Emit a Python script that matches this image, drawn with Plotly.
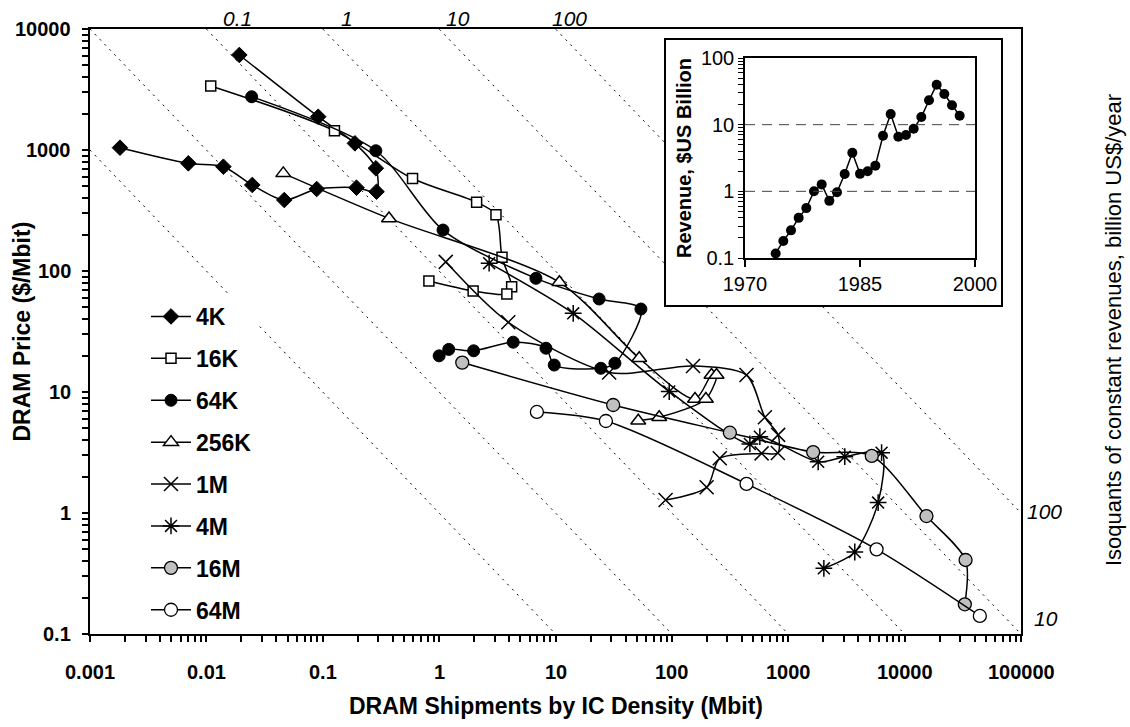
import numpy as np
import plotly.graph_objects as go

# ---------------- data ----------------
series_names = ["4K", "16K", "64K", "256K", "1M", "4M", "16M", "64M"]

x_4k = [0.0192, 0.0914, 0.189, 0.286, 0.290, 0.195, 0.0887, 0.0467, 0.0248, 0.0140, 0.0070, 0.00181]
y_4k = [6100, 1884, 1135, 706, 452, 488, 476, 386, 514, 728, 776, 1045]

x_16k = [0.0109, 0.126, 0.591, 2.10, 3.08, 3.47, 4.20, 3.82, 1.96, 0.817]
y_16k = [3380, 1445, 581, 370, 292, 130, 74.1, 64.6, 68.4, 82.6]

x_64k = [0.0245, 0.286, 1.08, 6.79, 23.7, 54.2, 32.4, 24.5, 9.75, 8.28, 4.33, 1.98, 1.21, 1.00]
y_64k = [2755, 986, 218, 87, 58.7, 48.5, 17.3, 15.7, 16.7, 23.0, 25.8, 21.9, 22.5, 19.9]

x_256k = [0.0458, 0.371, 10.8, 52.4, 158, 219, 242, 196, 77.8, 51.4]
y_256k = [641, 272, 80.7, 19.0, 8.75, 13.8, 13.8, 8.75, 6.18, 5.79]

x_1m = [1.14, 3.93, 28.9, 152, 438, 630, 819, 814, 590, 258, 199, 88.3]
y_1m = [119, 37.7, 14.5, 16.4, 13.8, 6.18, 4.42, 3.13, 3.11, 2.83, 1.63, 1.28]

x_4m = [2.69, 14.2, 94.9, 468, 570, 1808, 3060, 6340, 5920, 3730, 2023]
y_4m = [116, 44.7, 10.1, 3.72, 4.27, 2.65, 2.92, 3.15, 1.22, 0.476, 0.349]

x_16m = [1.58, 31.3, 315, 1637, 5220, 15400, 33400, 32900]
y_16m = [17.5, 7.81, 4.61, 3.19, 2.96, 0.944, 0.409, 0.176]

x_64m = [6.92, 27.1, 438, 5740, 44300]
y_64m = [6.84, 5.76, 1.74, 0.501, 0.141]

# inset: DRAM revenue
rev_years = list(range(1974, 1999))
rev_values = [0.117, 0.18, 0.26, 0.40, 0.56, 1.0, 1.27, 0.72, 0.97, 1.82, 3.8, 1.83, 2.0,
              2.43, 6.8, 14.4, 6.6, 7.0, 8.7, 13.0, 23.2, 39.8, 28.8, 19.5, 13.6]

# isoquants of constant revenue (Mbit x $/Mbit)
iso_products = [1, 10, 100, 1000, 10000, 100000]
top_label_products = [100, 1000, 10000, 100000]
top_label_text = ["0.1", "1", "10", "100"]
right_label_products = [100000, 10000]
right_label_text = ["100", "10"]

x_tickvals = [0.001, 0.01, 0.1, 1, 10, 100, 1000, 10000, 100000]
x_ticktext = ["0.001", "0.01", "0.1", "1", "10", "100", "1000", "10000", "100000"]
y_tickvals = [0.1, 1, 10, 100, 1000, 10000]
y_ticktext = ["0.1", "1", "10", "100", "1000", "10000"]
inset_xticks = [1970, 1985, 2000]
inset_yticktext = ["0.1", "1", "10", "100"]


def log_ticks(lo_exp, n_decades_labels):
    """Decade ticks plus 2..9 ticks in between (tick marks only)."""
    vals = []
    for k in range(n_decades_labels):
        e = lo_exp + k
        vals.append(10.0 ** e)
        if k < n_decades_labels - 1:
            vals.extend(m * 10.0 ** e for m in range(2, 10))
    return vals


def log_ticks_labeled(lo_exp, labels):
    vals, text = [], []
    for k, lab in enumerate(labels):
        e = lo_exp + k
        vals.append(10.0 ** e)
        text.append(lab)
        if k < len(labels) - 1:
            for m in range(2, 10):
                vals.append(m * 10.0 ** e)
                text.append("")
    return vals, text


# ---------------- styling ----------------
FONT = "Liberation Sans, Arial, sans-serif"
BLACK = "black"
xs = [x_4k, x_16k, x_64k, x_256k, x_1m, x_4m, x_16m, x_64m]
ys = [y_4k, y_16k, y_64k, y_256k, y_1m, y_4m, y_16m, y_64m]
markers = [
    dict(symbol="diamond", size=12, color=BLACK, line=dict(color=BLACK, width=1)),
    dict(symbol="square", size=10, color="white", line=dict(color=BLACK, width=1.5)),
    dict(symbol="circle", size=12, color=BLACK, line=dict(color=BLACK, width=1)),
    dict(symbol="triangle-up", size=13, color="white", line=dict(color=BLACK, width=1.5)),
    dict(symbol="x-thin", size=14, color=BLACK, line=dict(color=BLACK, width=1.5)),
    dict(symbol="asterisk", size=14, color=BLACK, line=dict(color=BLACK, width=1.5)),
    dict(symbol="circle", size=13, color="#c0c0c0", line=dict(color=BLACK, width=1.3)),
    dict(symbol="circle", size=13, color="white", line=dict(color=BLACK, width=1.3)),
]

fig = go.Figure()

# isoquant dotted lines
x_lo, x_hi = 10 ** -3, 10 ** 5
for P in iso_products:
    fig.add_trace(go.Scatter(
        x=[x_lo, x_hi], y=[P / x_lo, P / x_hi], mode="lines",
        line=dict(color=BLACK, width=1, dash="2px,5px"),
        showlegend=False, hoverinfo="skip"))

# DRAM generations
for name, xv, yv, mk in zip(series_names, xs, ys, markers):
    fig.add_trace(go.Scatter(
        x=xv, y=yv, name=name, mode="lines+markers", legendgroup=name,
        line=dict(color=BLACK, width=1.5, shape="spline", smoothing=0.8),
        marker=mk, cliponaxis=False))

# inset frame (dummy subplot providing white background and box)
fig.add_trace(go.Scatter(x=[], y=[], xaxis="x2", yaxis="y2", showlegend=False, hoverinfo="skip"))

# inset revenue
fig.add_trace(go.Scatter(
    x=rev_years, y=rev_values, xaxis="x3", yaxis="y3", mode="lines+markers",
    line=dict(color=BLACK, width=1.5),
    marker=dict(symbol="circle", size=10, color=BLACK),
    showlegend=False, cliponaxis=False))

# ---------------- geometry ----------------
L, R, T, B = 90, 1021, 29, 634
W, H = 1130, 727


def px_x(p):
    return (p - L) / (R - L)


def px_y(p):
    return (B - p) / (B - T)


axis_common = dict(showline=True, linecolor=BLACK, linewidth=1.5, mirror=True,
                   showgrid=False, zeroline=False)

iv_t, it_t = log_ticks_labeled(-1, inset_yticktext)

fig.update_layout(
    width=W, height=H, autosize=False,
    margin=dict(l=L, r=W - R, t=T, b=H - B),
    paper_bgcolor="white", plot_bgcolor="white",
    font=dict(family=FONT, color=BLACK),
    showlegend=True,
    legend=dict(x=px_x(146), y=px_y(295), xanchor="left", yanchor="top",
                bgcolor="white", borderwidth=0, traceorder="grouped", itemwidth=40,
                tracegroupgap=9, font=dict(family=FONT, size=23, weight="bold")),
    xaxis=dict(type="log", range=[-3, 5], tickmode="array", tickvals=log_ticks(-3, 9),
               showticklabels=False, ticks="outside", ticklen=6, tickwidth=1.5, tickcolor=BLACK,
               **axis_common),
    yaxis=dict(type="log", range=[-1, 4], tickmode="array", tickvals=log_ticks(-1, 6),
               showticklabels=False, ticks="outside", ticklen=6, tickwidth=1.5, tickcolor=BLACK,
               **axis_common),
    xaxis2=dict(domain=[px_x(666), px_x(1001)], anchor="y2", range=[0, 1],
                showticklabels=False, ticks="", fixedrange=True,
                showline=True, linecolor=BLACK, linewidth=1.5, mirror=True,
                showgrid=False, zeroline=False),
    yaxis2=dict(domain=[px_y(305), px_y(40)], anchor="x2", range=[0, 1],
                showticklabels=False, ticks="", fixedrange=True,
                showline=True, linecolor=BLACK, linewidth=1.5, mirror=True,
                showgrid=False, zeroline=False),
    xaxis3=dict(domain=[px_x(745), px_x(975)], anchor="y3", range=[1970, 2000],
                tickmode="array", tickvals=inset_xticks, ticks="outside", ticklen=7,
                tickwidth=1.5, tickcolor=BLACK, tickfont=dict(size=20),
                **axis_common),
    yaxis3=dict(domain=[px_y(258), px_y(58)], anchor="x3", type="log", range=[-1, 2],
                tickmode="array", tickvals=iv_t, ticktext=it_t,
                ticks="outside", ticklen=5, tickwidth=1.2, tickcolor=BLACK, tickfont=dict(size=20),
                title=dict(text="Revenue, $US Billion", font=dict(size=20, weight="bold"), standoff=4),
                showline=True, linecolor=BLACK, linewidth=1.5, mirror=True,
                showgrid=False, zeroline=False),
    shapes=[dict(type="line", xref="x3 domain", yref="y3", x0=0, x1=1, y0=g, y1=g,
                 line=dict(color="#444", width=1, dash="10px,7px"), layer="above")
            for g in [1, 10]],
)

annotations = []
# main tick labels
for v, t in zip(x_tickvals, x_ticktext):
    annotations.append(dict(text=t, xref="x", yref="paper", x=np.log10(v), y=0,
                            xanchor="center", yanchor="top", yshift=-25, showarrow=False,
                            font=dict(size=20, weight="bold")))
for v, t in zip(y_tickvals, y_ticktext):
    annotations.append(dict(text=t, xref="paper", yref="y", x=0, y=np.log10(v),
                            xanchor="right", yanchor="middle", xshift=-17, showarrow=False,
                            font=dict(size=20, weight="bold")))
# axis titles
annotations.append(dict(text="DRAM Shipments by IC Density (Mbit)", xref="paper", yref="paper",
                        x=0.5, y=px_y(706), xanchor="center", yanchor="middle", showarrow=False,
                        font=dict(size=23, weight="bold")))
annotations.append(dict(text="DRAM Price ($/Mbit)", xref="paper", yref="paper",
                        x=px_x(21), y=0.5, xanchor="center", yanchor="middle", showarrow=False,
                        textangle=-90, font=dict(size=23, weight="bold")))
annotations.append(dict(text="Isoquants of constant revenues, billion US$/year", xref="paper", yref="paper",
                        x=px_x(1113), y=px_y(330), xanchor="center", yanchor="middle", showarrow=False,
                        textangle=-90, font=dict(size=22)))
# isoquant labels along top
top_shifts = [31, 24, 19, 14]
for P, txt, sh in zip(top_label_products, top_label_text, top_shifts):
    annotations.append(dict(text=txt, xref="x", yref="paper", x=np.log10(P / 10 ** 4), y=1,
                            xanchor="center", yanchor="middle", yshift=11, xshift=sh,
                            showarrow=False, font=dict(size=21, style="italic")))
# isoquant labels along right edge
right_xshift = [4, 11]
right_yshift = [2, 16]
for P, txt, xsh, ysh in zip(right_label_products, right_label_text, right_xshift, right_yshift):
    annotations.append(dict(text=txt, xref="paper", yref="y", x=1, y=np.log10(P / 10 ** 5),
                            xanchor="left", yanchor="middle", xshift=xsh, yshift=ysh,
                            showarrow=False, font=dict(size=21, style="italic")))
fig.update_layout(annotations=annotations)

fig.write_html("out.html")
